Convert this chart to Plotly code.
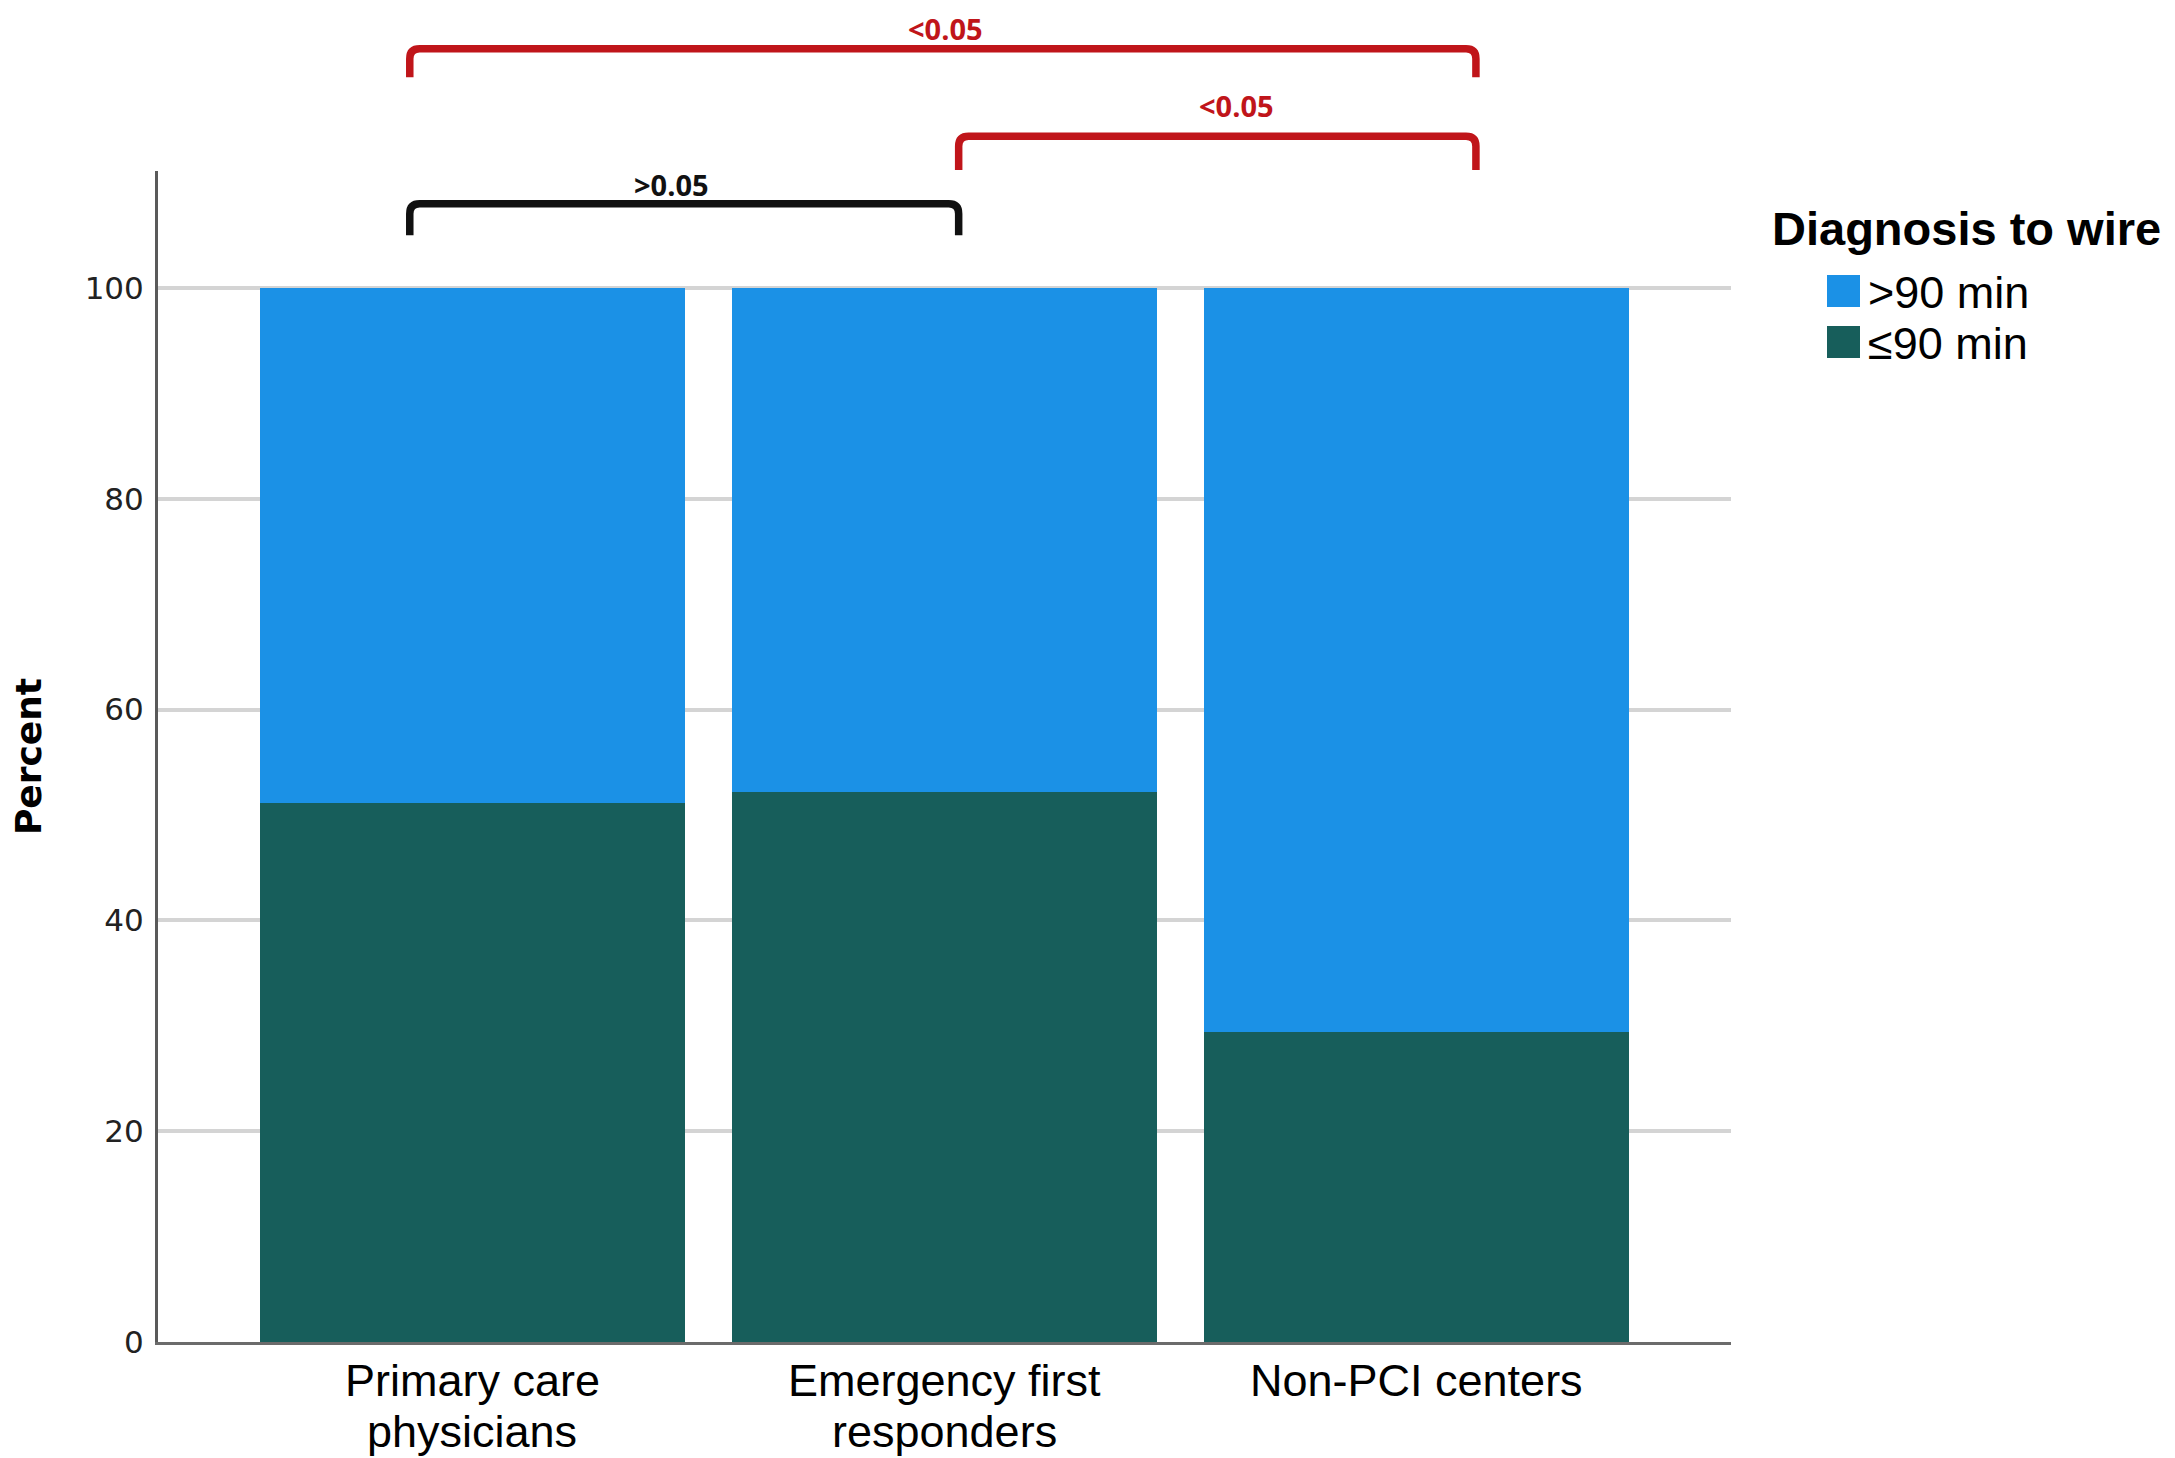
## stacked percent bar chart: diagnosis-to-wire time by referral source

import plotly.graph_objects as go

# data
categories = ["Primary care<br>physicians", "Emergency first<br>responders", "Non-PCI centers"]
within_90 = [51.1, 52.2, 29.4]   # <=90 min share
over_90 = [48.9, 47.8, 70.6]     # >90 min share
series_names = [">90 min", "≤90 min"]
y_ticks = [0, 20, 40, 60, 80, 100]
legend_title = "Diagnosis to wire"

# pairwise comparisons: (group a, group b, p-value label)
comparisons = [(0, 2, "<0.05"), (1, 2, "<0.05"), (0, 1, ">0.05")]

BLUE = "#1b91e6"
TEAL = "#175e5b"
RED = "#c0151a"

# the page has an 8px body margin, so the figure is drawn 8px in from the corner
PAGE_PAD = 8
W, H = 2175 - PAGE_PAD, 1458 - PAGE_PAD
L, T = 158 - PAGE_PAD, 171 - PAGE_PAD
R = W - (1731 - PAGE_PAD)
B = H - (1342 - PAGE_PAD)
YMAX = 111.1
PLOT_W = W - L - R
PLOT_H = H - T - B


def px_x(p):
    # page pixel column -> paper x
    return (p - PAGE_PAD - L) / PLOT_W


def px_y(p):
    # page pixel row -> paper y
    return (H - B - (p - PAGE_PAD)) / PLOT_H


xs = list(range(len(categories)))

fig = go.Figure()
fig.add_trace(go.Bar(x=xs, y=within_90, name=series_names[1], marker_color=TEAL,
                     marker_line_width=0, customdata=categories,
                     hovertemplate="%{customdata}<br>%{y}%<extra>≤90 min</extra>"))
fig.add_trace(go.Bar(x=xs, y=over_90, name=series_names[0], marker_color=BLUE,
                     marker_line_width=0, customdata=categories,
                     hovertemplate="%{customdata}<br>%{y}%<extra>>90 min</extra>"))

fig.update_layout(
    width=W, height=H,
    margin=dict(l=L, r=R, t=T, b=B, autoexpand=False),
    barmode="stack", bargap=0.1,
    plot_bgcolor="white", paper_bgcolor="white",
    showlegend=False,
)
fig.update_xaxes(range=[-0.665, 2.665], showticklabels=False, showgrid=False,
                 zeroline=False, showline=True, linecolor="#6b6b6b", linewidth=3, ticks="")
fig.update_yaxes(range=[0, YMAX], tickvals=y_ticks, showgrid=True, gridcolor="#d4d4d4",
                 gridwidth=4, zeroline=False, showline=True, linecolor="#5a5a5a",
                 linewidth=3, ticks="", ticklabelstandoff=5,
                 tickfont=dict(family="DejaVu Sans", size=31, color="#222222"),
                 title=dict(text="Percent", standoff=44,
                            font=dict(family="DejaVu Sans", size=36, color="black", weight="bold")))

# category labels under the bars, one annotation per line
for i, cat in enumerate(categories):
    for j, line in enumerate(cat.split("<br>")):
        fig.add_annotation(x=i, y=0, xref="x", yref="y", text=line, showarrow=False,
                           xanchor="center", yanchor="middle", yshift=-38 - 51 * j,
                           borderpad=0,
                           font=dict(family="Liberation Sans, Arial", size=45, color="black"))

# significance brackets
bracket_x = [-0.132, 1.030, 2.125]
bracket_levels = [(122.7, 120.0, 124.6, 1.002),
                  (114.4, 111.2, 117.3, 1.619),
                  (108.0, 105.0, 109.8, 0.422)]
dx, dy = 0.021, 0.0085
for (a, b, label), (top, leg, ty, tx) in zip(comparisons, bracket_levels):
    color = RED if label.startswith("<") else "#111111"
    x0, x1 = bracket_x[a], bracket_x[b]
    yt, yb = top / YMAX, leg / YMAX
    path = (f"M {x0},{yb} L {x0},{yt - dy} Q {x0},{yt} {x0 + dx},{yt} "
            f"L {x1 - dx},{yt} Q {x1},{yt} {x1},{yt - dy} L {x1},{yb}")
    fig.add_shape(type="path", path=path, xref="x", yref="paper",
                  line=dict(color=color, width=7.5))
    fig.add_annotation(x=tx, y=ty / YMAX, xref="x", yref="paper", text=label,
                       showarrow=False, xanchor="center", yanchor="middle", borderpad=0,
                       font=dict(family="Open Sans", size=29, color=color, weight="bold"))

# legend drawn by hand so the swatches match the reference size
fig.add_annotation(x=px_x(1771), y=px_y(228), xref="paper", yref="paper",
                   text=legend_title, showarrow=False, xanchor="left", yanchor="middle",
                   borderpad=0,
                   font=dict(family="Liberation Sans, Arial", size=47, color="black", weight="bold"))
for k, (name, color) in enumerate(zip(series_names, [BLUE, TEAL])):
    cy = 291 + 51 * k
    fig.add_shape(type="rect", xref="paper", yref="paper",
                  x0=px_x(1827), x1=px_x(1860), y0=px_y(cy + 16), y1=px_y(cy - 16),
                  fillcolor=color, line_width=0)
    fig.add_annotation(x=px_x(1867), y=px_y(cy + 1), xref="paper", yref="paper",
                       text=name, showarrow=False, xanchor="left", yanchor="middle",
                       borderpad=0,
                       font=dict(family="Liberation Sans, Arial", size=45, color="black"))

fig.write_html("out.html")
